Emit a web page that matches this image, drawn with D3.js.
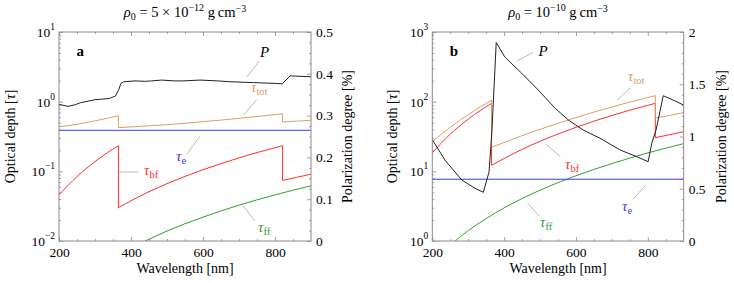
<!DOCTYPE html>
<html>
<head>
<style>
    body { margin: 0; background: white; }
    .frame { fill: none; stroke: #8a8a8a; stroke-width: 1; }
    .axis line { stroke: #8a8a8a; stroke-width: 0.8; }
    .axis path { display: none; }
    .leader { stroke: #a8a8a8; stroke-width: 0.8; }
    .curve { fill: none; stroke-width: 1; }
</style>
</head>
<body>
<svg id="chart" width="734" height="283"></svg>
<script src="https://cdn.jsdelivr.net/npm/d3@7/dist/d3.min.js"></script>
<script>

//////////////////// data ////////////////////
// wavelength grid of the bound-free segments (Balmer jump 365, Paschen jump 821)
let lambda_seg = [
    [200, 250, 300, 335, 365],
    [365, 400, 450, 500, 550, 600, 650, 700, 750, 800, 821],
    [821, 860, 900]
];
let lambda_ff = [200, 250, 300, 350, 400, 450, 500, 550, 600, 650, 700, 750, 800, 850, 900];
let lambda_e = [200, 900];

// panel a : rho0 = 5e-12
let tau_bf_a = [
    [0.046, 0.084, 0.138, 0.186, 0.233],
    [0.030, 0.0378, 0.051, 0.0665, 0.0846, 0.1055, 0.129, 0.156, 0.186, 0.218, 0.233],
    [0.074, 0.082, 0.091]
];
let tau_tot_a = [
    [0.435, 0.474, 0.530, 0.579, 0.627],
    [0.424, 0.434, 0.450, 0.468, 0.490, 0.516, 0.544, 0.577, 0.613, 0.652, 0.670],
    [0.511, 0.525, 0.541]
];
let tau_ff_a = [0.0013, 0.0024, 0.0038, 0.0056, 0.0078, 0.0106, 0.0139, 0.0177, 0.0220, 0.027, 0.0327, 0.039, 0.0459, 0.0536, 0.062];
let tau_e_a = [0.388, 0.388];
let lambda_P_a = [200, 225, 245, 260, 300, 340, 357, 366, 372, 380, 411, 440, 457, 485, 520, 545, 592, 640, 675, 740, 800, 820, 842, 870, 900];
let P_a = [0.327, 0.322, 0.326, 0.331, 0.338, 0.341, 0.347, 0.362, 0.377, 0.381, 0.383, 0.382, 0.383, 0.385, 0.383, 0.383, 0.385, 0.383, 0.381, 0.379, 0.377, 0.376, 0.395, 0.394, 0.393];

// panel b : rho0 = 1e-10
let tau_bf_b = [
    [18.5, 34.1, 56.0, 75.5, 94.6],
    [12.2, 15.3, 20.7, 27.0, 34.3, 42.8, 52.4, 63.3, 75.5, 88.5, 94.6],
    [30.4, 33.5, 37.0]
];
let tau_tot_b = [
    [26.7, 42.7, 65.1, 85.1, 104.6],
    [22.3, 26.0, 32.5, 40.1, 48.9, 59.1, 70.8, 83.9, 98.7, 114.6, 122.0],
    [57.8, 63.4, 69.7]
];
let tau_ff_b = [0.49, 0.87, 1.41, 2.10, 2.99, 4.07, 5.36, 6.88, 8.64, 10.66, 12.9, 15.5, 18.4, 21.5, 25.0];
let tau_e_b = [7.7, 7.7];
let lambda_P_b = [200, 235, 282, 319, 342, 358, 366, 378, 402, 449, 495, 542, 579, 620, 667, 723, 769, 801, 811, 823, 843, 870, 900];
let P_b = [0.97, 0.775, 0.584, 0.504, 0.466, 0.66, 1.05, 1.90, 1.76, 1.605, 1.445, 1.27, 1.158, 1.062, 0.983, 0.871, 0.807, 0.759, 0.935, 1.062, 1.39, 1.35, 1.30];

// ticks
let x_ticks = [200, 400, 600, 800];
let x_minor = [250, 300, 350, 450, 500, 550, 650, 700, 750, 850];
let tau_ticks_a = [0.01, 0.1, 1, 10];
let tau_exp_a = ['\u22122', '\u22121', '0', '1'];
let tau_ticks_b = [1, 10, 100, 1000];
let tau_exp_b = ['0', '1', '2', '3'];
let P_ticks_a = [0, 0.1, 0.2, 0.3, 0.4, 0.5];
let P_labels_a = ['0', '0.1', '0.2', '0.3', '0.4', '0.5'];
let P_ticks_b = [0, 0.5, 1, 1.5, 2];
let P_labels_b = ['0', '0.5', '1', '1.5', '2'];

//////////////////// style ////////////////////
let FONT = '"Liberation Serif"';
let FS_TICK = '13.5px';
let FS_LAB = '14px';
let COL_P = '#222222';
let COL_TOT = '#d9a066';
let COL_E = '#3b3bff';
let COL_BF = '#ff3030';
let COL_FF = '#30a030';

let TOP = 32;
let BOTTOM = 241;

let svg = d3.select('#chart');

//////////////////// panels ////////////////////
let panel_a = {
    id: 'a', left: 59, right: 311,
    tauDomain: [0.01, 10], PDomain: [0, 0.5],
    tauTicks: tau_ticks_a, tauExp: tau_exp_a,
    PTicks: P_ticks_a, PLabels: P_labels_a, PMinorStep: 0.025,
    bf: tau_bf_a, tot: tau_tot_a, ff: tau_ff_a, e: tau_e_a, lP: lambda_P_a, P: P_a,
    title: ['5 \u00d7 10', '\u221212'],
    ylabX: 15, y2labX: 352,
    labels: [
        {t: 'P', x: 260, y: 57, c: 'black', line: [246.7, 77.3, 259.3, 61]},
        {t: 'tot', x: 251, y: 92, c: COL_TOT, line: [243.3, 115.3, 257, 99.5]},
        {t: 'e', x: 176, y: 161, c: COL_E, line: [199.5, 136.5, 186.7, 154.3]},
        {t: 'bf', x: 144, y: 175, c: COL_BF, line: [119.3, 172, 138.3, 172]},
        {t: 'ff', x: 258, y: 232, c: COL_FF, line: [243.3, 206, 255, 221]}
    ]
};
let panel_b = {
    id: 'b', left: 432.3, right: 683.7,
    tauDomain: [1, 1000], PDomain: [0, 2],
    tauTicks: tau_ticks_b, tauExp: tau_exp_b,
    PTicks: P_ticks_b, PLabels: P_labels_b, PMinorStep: 0.1,
    bf: tau_bf_b, tot: tau_tot_b, ff: tau_ff_b, e: tau_e_b, lP: lambda_P_b, P: P_b,
    title: ['10', '\u221210'],
    ylabX: 397, y2labX: 726,
    labels: [
        {t: 'P', x: 538.5, y: 56, c: 'black', line: [517, 61, 533, 52.5]},
        {t: 'tot', x: 628, y: 81, c: COL_TOT, line: [617, 100.5, 630.5, 87.5]},
        {t: 'bf', x: 565, y: 169, c: COL_BF, line: [545.5, 143.7, 560.3, 156.5]},
        {t: 'e', x: 622, y: 211, c: COL_E, line: [633.5, 199, 646, 184.5]},
        {t: 'ff', x: 540, y: 227, c: COL_FF, line: [527.5, 203, 539, 216]}
    ]
};

drawPanel(panel_a);
drawPanel(panel_b);

// every text in the serif face
svg.selectAll('text').style('font-family', FONT);

function segPath(xs, ys, x, y) {
    let line = d3.line().x(d => x(d[0])).y(d => y(d[1])).curve(d3.curveMonotoneX);
    return xs.map((seg, i) => {
        let s = line(seg.map((l, j) => [l, ys[i][j]]));
        return i == 0 ? s : 'L' + s.slice(1);
    }).join('');
}

function drawPanel(p) {
    let x = d3.scaleLinear().domain([200, 900]).range([p.left, p.right]);
    let y = d3.scaleLog().domain(p.tauDomain).range([BOTTOM, TOP]);
    let y2 = d3.scaleLinear().domain(p.PDomain).range([BOTTOM, TOP]);
    let W = p.right - p.left;
    let H = BOTTOM - TOP;

    let g = svg.append('g').attr('id', 'panel_' + p.id);

    g.append('clipPath').attr('id', 'clip_' + p.id)
        .append('rect').attr('x', p.left).attr('y', TOP).attr('width', W).attr('height', H);

    // x axis bottom + top (inward ticks)
    g.append('g').classed('axis', true).attr('transform', `translate(0, ${BOTTOM})`)
        .call(d3.axisBottom(x).tickValues(x_ticks).tickSize(-4).tickPadding(6).tickFormat(d3.format('d')));
    g.append('g').classed('axis', true).attr('transform', `translate(0, ${BOTTOM})`)
        .call(d3.axisBottom(x).tickValues(x_minor).tickSize(-2).tickFormat(''));
    g.append('g').classed('axis', true).attr('transform', `translate(0, ${TOP})`)
        .call(d3.axisTop(x).tickValues(x_ticks).tickSize(-4).tickFormat(''));
    g.append('g').classed('axis', true).attr('transform', `translate(0, ${TOP})`)
        .call(d3.axisTop(x).tickValues(x_minor).tickSize(-2).tickFormat(''));

    // left log axis
    let minorTau = y.ticks().filter(v => p.tauTicks.indexOf(v) < 0);
    g.append('g').classed('axis', true).attr('transform', `translate(${p.left}, 0)`)
        .call(d3.axisLeft(y).tickValues(minorTau).tickSize(-2).tickFormat(''));
    let yl = g.append('g').classed('axis', true).attr('transform', `translate(${p.left}, 0)`)
        .call(d3.axisLeft(y).tickValues(p.tauTicks).tickSize(-4).tickPadding(4).tickFormat(''));
    yl.selectAll('text').each(function(d, i) {
        let t = d3.select(this).attr('dy', '0.33em');
        t.append('tspan').text('10');
        t.append('tspan').attr('font-size', '9.5px').attr('dy', '-0.75em').text(p.tauExp[i]);
    });

    // right P axis
    let minorP = d3.range(p.PDomain[0], p.PDomain[1] + 1e-9, p.PMinorStep)
        .filter(v => !p.PTicks.some(t => Math.abs(t - v) < 1e-9));
    g.append('g').classed('axis', true).attr('transform', `translate(${p.right}, 0)`)
        .call(d3.axisRight(y2).tickValues(minorP).tickSize(-2).tickFormat(''));
    g.append('g').classed('axis', true).attr('transform', `translate(${p.right}, 0)`)
        .call(d3.axisRight(y2).tickValues(p.PTicks).tickSize(-4).tickPadding(5).tickFormat((d, i) => p.PLabels[i]));

    g.selectAll('.axis').attr('font-size', FS_TICK);

    // curves
    let curves = g.append('g').attr('clip-path', `url(#clip_${p.id})`);
    let lineLin = d3.line().x(d => x(d[0])).y(d => y(d[1]));
    let lineMono = d3.line().x(d => x(d[0])).y(d => y(d[1])).curve(d3.curveMonotoneX);
    let lineP = d3.line().x(d => x(d[0])).y(d => y2(d[1]));

    curves.append('path').classed('curve', true).attr('stroke', COL_FF)
        .attr('d', lineMono(lambda_ff.map((l, i) => [l, p.ff[i]])));
    curves.append('path').classed('curve', true).attr('stroke', COL_E)
        .attr('d', lineLin(lambda_e.map((l, i) => [l, p.e[i]])));
    curves.append('path').classed('curve', true).attr('stroke', COL_BF)
        .attr('d', segPath(lambda_seg, p.bf, x, y));
    curves.append('path').classed('curve', true).attr('stroke', COL_TOT)
        .attr('d', segPath(lambda_seg, p.tot, x, y));
    curves.append('path').classed('curve', true).attr('stroke', COL_P)
        .attr('d', lineP(p.lP.map((l, i) => [l, p.P[i]])));

    // frame
    g.append('rect').classed('frame', true)
        .attr('x', p.left).attr('y', TOP).attr('width', W).attr('height', H);

    // panel letter
    g.append('text').attr('x', p.left + 17.5).attr('y', 55.5)
        .attr('font-size', '15px').attr('font-weight', 'bold').text(p.id);

    // curve labels + leader lines
    p.labels.forEach(lb => {
        g.append('line').classed('leader', true)
            .attr('x1', lb.line[0]).attr('y1', lb.line[1]).attr('x2', lb.line[2]).attr('y2', lb.line[3]);
        let t = g.append('text').attr('x', lb.x).attr('y', lb.y).attr('font-size', '15px').style('fill', lb.c);
        if (lb.t == 'P') {
            t.attr('font-style', 'italic').text('P');
        } else {
            t.append('tspan').attr('font-style', 'italic').text('\u03c4');
            t.append('tspan').attr('font-size', '10.5px').attr('dy', '0.25em').text(lb.t);
        }
    });

    // title
    let cx = (p.left + p.right) / 2;
    let title = g.append('text').attr('x', cx).attr('y', 17).attr('text-anchor', 'middle').attr('font-size', '14.5px');
    title.append('tspan').attr('font-style', 'italic').text('\u03c1');
    title.append('tspan').attr('font-size', '10px').attr('dy', '0.3em').text('0');
    title.append('tspan').attr('dy', '-0.21em').text(' = ' + p.title[0]);
    title.append('tspan').attr('font-size', '10px').attr('dy', '-0.55em').text(p.title[1]);
    title.append('tspan').attr('dy', '0.39em').text(' g\u2009cm');
    title.append('tspan').attr('font-size', '10px').attr('dy', '-0.55em').text('\u22123');

    // axis titles
    g.append('text').attr('x', cx).attr('y', 273).attr('text-anchor', 'middle')
        .attr('font-size', FS_LAB).text('Wavelength [nm]');
    let yt = g.append('text').attr('transform', `translate(${p.ylabX}, ${(TOP + BOTTOM) / 2}) rotate(-90)`)
        .attr('text-anchor', 'middle').attr('font-size', FS_LAB);
    yt.append('tspan').text('Optical depth [');
    yt.append('tspan').attr('font-style', 'italic').text('\u03c4');
    yt.append('tspan').text(']');
    g.append('text').attr('transform', `translate(${p.y2labX}, ${(TOP + BOTTOM) / 2}) rotate(-90)`)
        .attr('text-anchor', 'middle').attr('font-size', FS_LAB).text('Polarization degree [%]');
}

</script>
</body>
</html>
